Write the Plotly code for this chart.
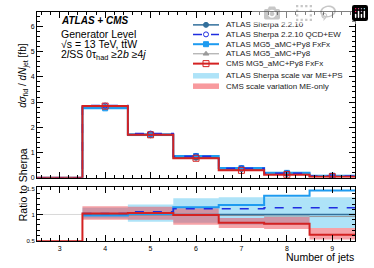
import numpy as np
import plotly.graph_objects as go

W, H = 374, 268

# ---------------- data ----------------
bins_all = [3, 4, 5, 6, 7, 8, 9]
bins = [4, 5, 6, 7, 8, 9]

# top panel: dsigma/dNjet [fb] (bins 3..9)
sherpa = [0, 2.80, 1.68, 0.79, 0.34, 0.15, 0.06]
sherpa_qcdew = [0, 2.86, 1.75, 0.85, 0.37, 0.17, 0.07]
mg5_fxfx = [0, 2.75, 1.72, 0.86, 0.38, 0.19, 0.08]
mg5_py8 = [0, 2.80, 1.67, 0.78, 0.33, 0.14, 0.05]
cms_fxfx = [0, 2.84, 1.70, 0.77, 0.29, 0.12, 0.04]

# ratio panel (to Sherpa), bins 4..9 (CMS includes bin 3)
r_sherpa = [1.0, 1.0, 1.0, 1.0, 1.0, 1.0]
r_qcdew = [1.02, 1.05, 1.11, 1.11, 1.13, 1.13]
r_fxfx = [0.98, 1.01, 1.14, 1.18, 1.36, 1.46]
r_py8 = [1.0, 0.99, 1.0, 0.98, 0.97, 0.96]
r_cms = [0.0, 1.02, 1.03, 0.99, 0.84, 0.82, 0.61]
band_sherpa_lo = [0.92, 0.86, 0.84, 0.80, 0.80, 0.74]
band_sherpa_hi = [1.13, 1.19, 1.31, 1.33, 1.33, 1.33]
band_cms_lo = [0.90, 0.90, 0.80, 0.74, 0.72, 0.52]
band_cms_hi = [1.16, 1.15, 1.12, 0.93, 0.95, 0.74]

X_RANGE = [2.5, 9.5]
TOP_RANGE = [0, 6.58]
RATIO_RANGE = [0.481, 1.519]

C_SHERPA = "#33709c"
C_QCDEW = "#1f2de0"
C_FXFX = "#1e9bf0"
C_PY8 = "#9a9a9a"
C_CMS = "#d42222"
C_BAND_S = "#aee3f8"
C_BAND_C = "rgba(238,70,80,0.5)"

FONT = "Liberation Sans, Arial, Helvetica, sans-serif"


def step(centers, vals):
    c = np.asarray(centers, float)
    v = np.asarray(vals, float)
    return np.append(c - 0.5, c[-1] + 0.5), np.append(v, v[-1])


def px(x):
    return x / W


def py(y):
    return 1 - y / H


fig = go.Figure()

series = [
    ("ATLAS MG5_aMC+Py8", mg5_py8, r_py8, C_PY8, 1, "solid", "triangle-up", 5),
    ("ATLAS Sherpa 2.2.10", sherpa, r_sherpa, C_SHERPA, 1.5, "solid", "circle", 5),
    ("ATLAS MG5_aMC+Py8 FxFx", mg5_fxfx, r_fxfx, C_FXFX, 2, "solid", "square", 5),
    ("ATLAS Sherpa 2.2.10 QCD+EW", sherpa_qcdew, r_qcdew, C_QCDEW, 1.5, "dash", "circle-open", 5),
    ("CMS MG5_aMC+Py8 FxFx", cms_fxfx, r_cms, C_CMS, 2, "solid", "square-open", 6),
]

# ---- top panel ----
for name, vals, _, col, lw, dash, sym, ms in series:
    x, y = step(bins_all, vals)
    fig.add_trace(go.Scatter(x=x, y=y, mode="lines", line=dict(color=col, width=lw, dash=dash, shape="hv"),
                             xaxis="x", yaxis="y", showlegend=False, hoverinfo="skip"))
    fig.add_trace(go.Scatter(x=bins, y=vals[1:], mode="markers",
                             marker=dict(symbol=sym, size=ms, color=col, line=dict(color=col, width=1)),
                             xaxis="x", yaxis="y", showlegend=False, hoverinfo="skip"))

# ---- ratio panel: bands ----
for lo, hi, fc in [(band_sherpa_lo, band_sherpa_hi, C_BAND_S), (band_cms_lo, band_cms_hi, C_BAND_C)]:
    x, ylo = step(bins, lo)
    _, yhi = step(bins, hi)
    fig.add_trace(go.Scatter(x=x, y=ylo, mode="lines", line=dict(width=0, shape="hv"),
                             xaxis="x2", yaxis="y2", showlegend=False, hoverinfo="skip"))
    fig.add_trace(go.Scatter(x=x, y=yhi, mode="lines", line=dict(width=0, shape="hv"), fill="tonexty",
                             fillcolor=fc, xaxis="x2", yaxis="y2", showlegend=False, hoverinfo="skip"))

# ---- ratio panel: lines ----
for name, _, rvals, col, lw, dash, sym, ms in series:
    centers = bins_all if len(rvals) == len(bins_all) else bins
    rv = np.clip(np.asarray(rvals, float), RATIO_RANGE[0] + 0.006, RATIO_RANGE[1])
    x, y = step(centers, rv)
    fig.add_trace(go.Scatter(x=x, y=y, mode="lines", line=dict(color=col, width=lw, dash=dash, shape="hv"),
                             xaxis="x2", yaxis="y2", showlegend=False, hoverinfo="skip"))

# ---- manual legend (pixel coordinates on an overlay axis) ----
legend_rows = [
    ("ATLAS Sherpa 2.2.10", C_SHERPA, 1.5, "solid", "circle", 5, 23.3),
    ("ATLAS Sherpa 2.2.10 QCD+EW", C_QCDEW, 1.5, "dash", "circle-open", 5, 33.0),
    ("ATLAS MG5_aMC+Py8 FxFx", C_FXFX, 2, "solid", "square", 5, 43.0),
    ("ATLAS MG5_aMC+Py8", C_PY8, 1, "solid", "triangle-up", 5, 52.8),
    ("CMS MG5_aMC+Py8 FxFx", C_CMS, 2, "solid", "square-open", 6, 62.8),
]
LX0, LX1, LTX = 193, 219, 224
for name, col, lw, dash, sym, ms, yy in legend_rows:
    fig.add_trace(go.Scatter(x=[LX0, LX1], y=[yy, yy], mode="lines", line=dict(color=col, width=lw, dash=dash),
                             xaxis="x3", yaxis="y3", showlegend=False, hoverinfo="skip"))
    fig.add_trace(go.Scatter(x=[(LX0 + LX1) / 2], y=[yy], mode="markers",
                             marker=dict(symbol=sym, size=ms, color=col, line=dict(color=col, width=1)),
                             xaxis="x3", yaxis="y3", showlegend=False, hoverinfo="skip"))
    fig.add_annotation(x=LTX, y=yy, xref="x3", yref="y3", text=name, showarrow=False, xanchor="left",
                       yanchor="middle", font=dict(size=8, family=FONT, color="#222"))

band_rows = [("ATLAS Sherpa scale var ME+PS", C_BAND_S, 75.2), ("CMS scale variation ME-only", "rgba(245,120,125,0.75)", 85.8)]
shapes = []
for name, fc, yy in band_rows:
    shapes.append(dict(type="rect", xref="x3", yref="y3", x0=LX0, x1=LX1, y0=yy - 2.8, y1=yy + 2.8,
                       fillcolor=fc, line=dict(width=0)))
    fig.add_annotation(x=LTX, y=yy, xref="x3", yref="y3", text=name, showarrow=False, xanchor="left",
                       yanchor="middle", font=dict(size=8, family=FONT, color="#222"))

# reference line at 1 in ratio
shapes.append(dict(type="line", xref="x2 domain", yref="y2", x0=0, x1=1, y0=1, y1=1,
                   line=dict(color="#d8d8d8", width=1), layer="below"))

# ---- text labels ----
txt = [
    ("<b><i>ATLAS + CMS</i></b>", 19.3, 10),
    ("Generator Level", 32.3, 10.5),
    ("√s = 13 TeV, tt̄W", 43.3, 10.5),
    ("2<i>l</i>SS 0τ<sub>had</sub> ≥2<i>b</i> ≥4<i>j</i>", 54.0, 10.5),
]
for t, yy, fs in txt:
    fig.add_annotation(x=px(59), y=py(yy), xref="paper", yref="paper", text=t, showarrow=False,
                       xanchor="left", yanchor="middle", font=dict(size=fs, family=FONT, color="black"))

fig.add_annotation(x=px(15), y=py(41), xref="paper", yref="paper", textangle=-90,
                   text="<i>dσ</i><sub>fid</sub> / <i>dN</i><sub>jet</sub> [fb]", showarrow=False,
                   font=dict(size=10, family=FONT, color="black"))
fig.add_annotation(x=px(15), y=py(226), xref="paper", yref="paper", textangle=-90,
                   text="Ratio to Sherpa", showarrow=False, font=dict(size=10.5, family=FONT, color="black"))
fig.add_annotation(x=px(356), y=py(260), xref="paper", yref="paper", text="Number of jets",
                   showarrow=False, xanchor="right", yanchor="middle",
                   font=dict(size=10.5, family=FONT, color="black"))

axis_common = dict(showline=True, linecolor="black", linewidth=1, mirror="ticks", ticks="inside",
                   tickcolor="black", ticklen=6, tickwidth=1, showgrid=False, zeroline=False,
                   tickfont=dict(size=7, family=FONT, color="black"), fixedrange=True)

fig.update_layout(
    width=W, height=H, margin=dict(l=0, r=0, t=0, b=0),
    paper_bgcolor="white", plot_bgcolor="rgba(0,0,0,0)", showlegend=False,
    shapes=shapes,
    xaxis=dict(domain=[px(37), px(355)], range=X_RANGE, anchor="y", showticklabels=False, dtick=1, tick0=0,
               minor=dict(ticks="inside", ticklen=3, dtick=0.2, tickcolor="black", showgrid=False),
               **axis_common),
    yaxis=dict(domain=[py(179), py(10)], range=TOP_RANGE, anchor="x", dtick=1, tick0=0,
               minor=dict(ticks="inside", ticklen=3, dtick=0.2, tickcolor="black", showgrid=False),
               **axis_common),
    xaxis2=dict(domain=[px(37), px(355)], range=X_RANGE, anchor="y2", dtick=1, tick0=0,
                minor=dict(ticks="inside", ticklen=3, dtick=0.2, tickcolor="black", showgrid=False),
                **axis_common),
    yaxis2=dict(domain=[py(244), py(189)], range=RATIO_RANGE, anchor="x2",
                tickvals=[0.5, 1, 1.5], ticktext=["0.5", "1", "1.5"],
                minor=dict(ticks="inside", ticklen=3, tickvals=[0.6, 0.7, 0.8, 0.9, 1.1, 1.2, 1.3, 1.4],
                           tickcolor="black", showgrid=False),
                **axis_common),
    xaxis3=dict(domain=[0, 1], range=[0, W], anchor="y3", visible=False, fixedrange=True),
    yaxis3=dict(domain=[0, 1], range=[H, 0], anchor="x3", visible=False, fixedrange=True),
)
fig.update_yaxes(selector=dict(anchor="x2"), tickfont=dict(size=6, family=FONT, color="black"))

fig.write_html("out.html", post_script="document.body.style.margin='0';document.body.style.padding='0';")
